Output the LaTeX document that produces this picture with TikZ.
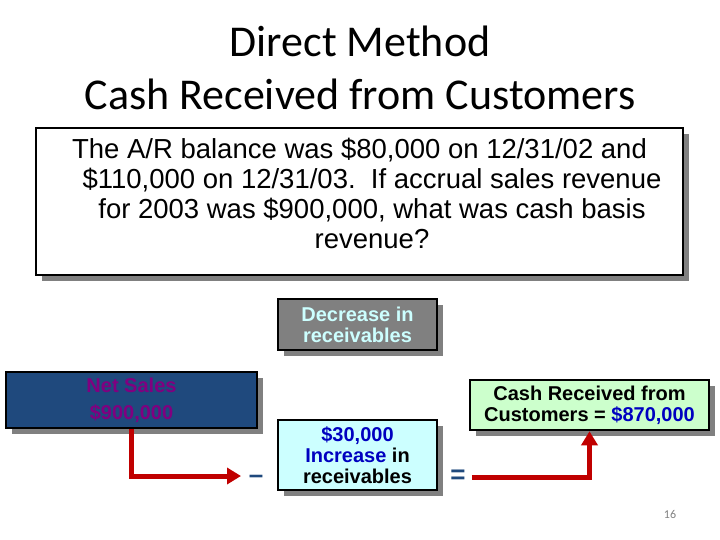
\documentclass[tikz,border=0pt]{standalone}
\usepackage{fontspec}
\setmainfont{Liberation Sans}
\newfontfamily\titlefont{Carlito}
\usetikzlibrary{shadows,arrows.meta}
\definecolor{navy}{RGB}{31,73,125}
\definecolor{netpurple}{RGB}{128,0,128}
\definecolor{shadowgray}{RGB}{128,128,128}
\definecolor{boxgray}{RGB}{128,128,128}
\definecolor{lcyan}{RGB}{204,255,255}
\definecolor{lgreen}{RGB}{204,255,204}
\definecolor{arrowred}{RGB}{192,0,0}
\definecolor{numblue}{RGB}{0,0,192}
\begin{document}
\begin{tikzpicture}[x=1pt,y=-1pt,
  box/.style={draw=black,line width=2.5pt,
    drop shadow={shadow xshift=6pt,shadow yshift=-6pt,fill=shadowgray,opacity=1},
    inner sep=0pt,align=center,font=\bfseries\fontsize{20}{21}\selectfont},
  flow/.style={draw=arrowred,line width=5pt,-{Triangle[length=14pt,width=16pt]}},
  sign/.style={font=\bfseries\fontsize{26}{30}\selectfont,text=navy,inner sep=0pt}]
\useasboundingbox (0,0) rectangle (720,540);
% title
\node[font=\titlefont\fontsize{44}{53}\selectfont,align=center] (title) at (360,68)
  {Direct Method\\Cash Received from Customers};
% question box
\node[box,fill=white,minimum width=647pt,minimum height=147pt] (q) at (359.5,201.5) {};
\node[font=\fontsize{27.5}{30}\selectfont,align=center] (qt) at (372,193)
  {The A/R balance was \$80,000 on 12/31/02 and\hspace*{25pt}\\
   \$110,000 on 12/31/03.\ \ If accrual sales revenue\\
   for 2003 was \$900,000, what was cash basis\\
   revenue?};
% boxes
\node[box,fill=boxgray,text=lcyan,minimum width=159pt,minimum height=51pt] (dec) at (357.5,324.5)
  {Decrease in\\receivables};
\node[box,fill=navy,text=netpurple,font=\bfseries\fontsize{20}{27}\selectfont,minimum width=251pt,minimum height=56pt] (ns) at (131.5,400)
  {Net Sales\\\$900,000};
\node[box,fill=lcyan,minimum width=159pt,minimum height=70pt] (inc) at (357.5,455)
  {\textcolor{numblue}{\$30,000}\\\textcolor{numblue}{Increase} in\\receivables};
\node[box,fill=lgreen,minimum width=239pt,minimum height=50pt] (cash) at (589.5,405)
  {Cash Received from\\Customers = \textcolor{numblue}{\$870,000}};
% signs
\node[sign] (minus) at (256,479) {--};
\node[sign] (eq) at (458,477) {=};
% arrow ends
\coordinate (a1) at (241,476);
% arrows
\draw[flow] (ns.south) |- (a1);
\draw[flow] ([xshift=6pt]eq.east) -| (cash.south);
% page number
\node[font=\titlefont\fontsize{12}{14}\selectfont,text=gray] (pg) at (670,514) {16};
\end{tikzpicture}
\end{document}
